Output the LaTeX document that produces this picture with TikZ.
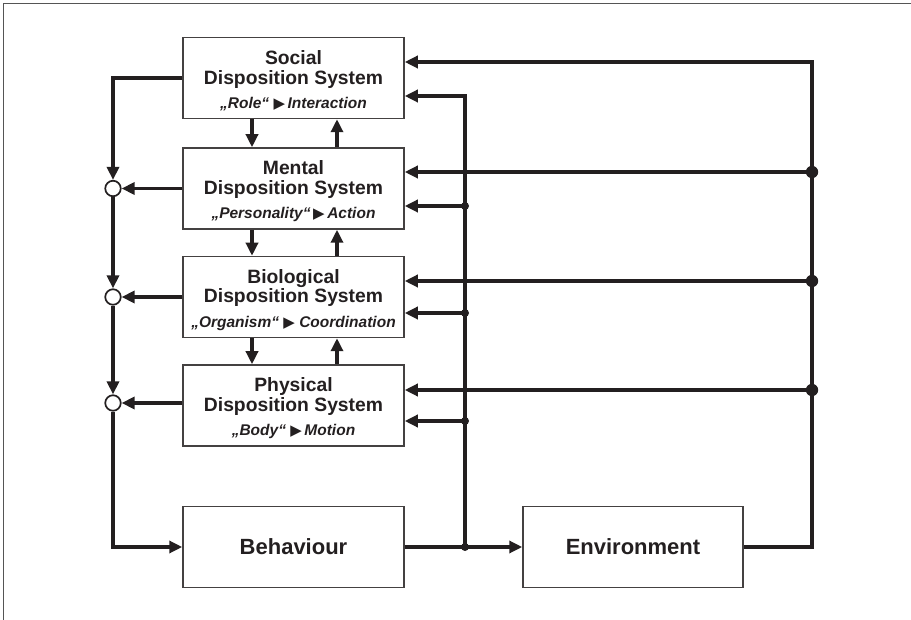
\documentclass[tikz,border=0pt]{standalone}
\usepackage{fontspec}
\setmainfont{Liberation Sans}
\newfontfamily\symfont{DejaVu Sans}
\usetikzlibrary{arrows.meta,calc}
\definecolor{ink}{HTML}{231F20}
\definecolor{frame}{HTML}{555555}

\begin{document}
\begin{tikzpicture}[x=1pt,y=-1pt,
  dbox/.style={draw=ink!85, line width=1.5pt, minimum width=221pt, minimum height=81pt,
    inner sep=0pt, align=center, text=ink, font=\bfseries\fontsize{19.3}{19.4}\selectfont},
  wire/.style={draw=ink, line width=3.3pt},
  arr/.style={wire, -{Triangle[length=13pt,width=12pt]}},
  hub/.style={circle, draw=ink, line width=1.7pt, fill=white, minimum size=15.5pt, inner sep=0pt},
]
\useasboundingbox (0,0) rectangle (911,620);
\newcommand{\tagline}[1]{{\itshape\fontsize{15.5}{19.4}\selectfont #1}}
\newcommand{\pointer}{{\symfont\fontsize{15}{19.4}\selectfont ▶}}
\newcommand{\lift}{\rule{0pt}{20pt}}

% outer frame (top and left edges only)
\draw[frame, line width=1.6pt] (3.5,620) -- (3.5,3.5) -- (911,3.5);

% disposition systems
\node[dbox] (soc) at (293.5,78)    {\lift Social\\Disposition System\\[5pt]\tagline{„Role“ \pointer\,Interaction}};
\node[dbox] (men) at (293.5,188.5) {\lift Mental\\Disposition System\\[5pt]\tagline{„Personality“\,\pointer\,Action}};
\node[dbox] (bio) at (293.5,297)   {\lift Biological\\Disposition System\\[5pt]\tagline{„Organism“ \pointer\ Coordination}};
\node[dbox] (phy) at (293.5,405.5) {\lift Physical\\Disposition System\\[5pt]\tagline{„Body“ \pointer\,Motion}};

% behaviour and environment
\node[dbox, font=\bfseries\fontsize{22}{24}\selectfont] (beh) at (293.5,547) {Behaviour};
\node[dbox, font=\bfseries\fontsize{22}{24}\selectfont, minimum width=220pt] (env) at (633,547) {Environment};

% summing points on the left bus
\node[hub] (c1) at (113,188.5) {};
\node[hub] (c2) at (113,297) {};
\node[hub] (c3) at (113,403) {};

% left bus
\draw[arr] (soc.west) -| (c1.north);
\draw[arr] (men.west) -- (c1.east);
\draw[arr] (bio.west) -- (c2.east);
\draw[arr] (c3 -| phy.west) -- (c3.east);
\draw[arr] (c1.south) -- (c2.north);
\draw[arr] (c2.south) -- (c3.north);
\draw[arr] (c3.south) |- (beh.west);

% links between neighbouring systems
\foreach \a/\b in {soc/men, men/bio, bio/phy}{
  \draw[arr] ([xshift=-41.5pt]\a.south) -- ([xshift=-41.5pt]\b.north);
  \draw[arr] ([xshift=43.5pt]\b.north) -- ([xshift=43.5pt]\a.south);
}

% environment feedback
\coordinate (rtop) at (812,62);
\coordinate (j1) at (812,172);
\coordinate (j2) at (812,281);
\coordinate (j3) at (812,390);
\draw[arr] (env.east) -| (rtop) -- (rtop -| soc.east);
\draw[arr] (j1) -- (j1 -| men.east);
\draw[arr] (j2) -- (j2 -| bio.east);
\draw[arr] (j3) -- (j3 -| phy.east);

% behaviour feedback
\coordinate (k0) at (465,547);
\coordinate (ktop) at (465,96);
\coordinate (k1) at (465,206);
\coordinate (k2) at (465,313);
\coordinate (k3) at (465,421);
\draw[arr] (beh.east) -- (env.west);
\draw[arr] (k0) -- (ktop) -- (ktop -| soc.east);
\draw[arr] (k1) -- (k1 -| men.east);
\draw[arr] (k2) -- (k2 -| bio.east);
\draw[arr] (k3) -- (k3 -| phy.east);

% junction dots
\foreach \p in {j1,j2,j3} \fill[ink] (\p) circle (6.2pt);
\foreach \p in {k0,k1,k2,k3} \fill[ink] (\p) circle (4pt);
\end{tikzpicture}
\end{document}
